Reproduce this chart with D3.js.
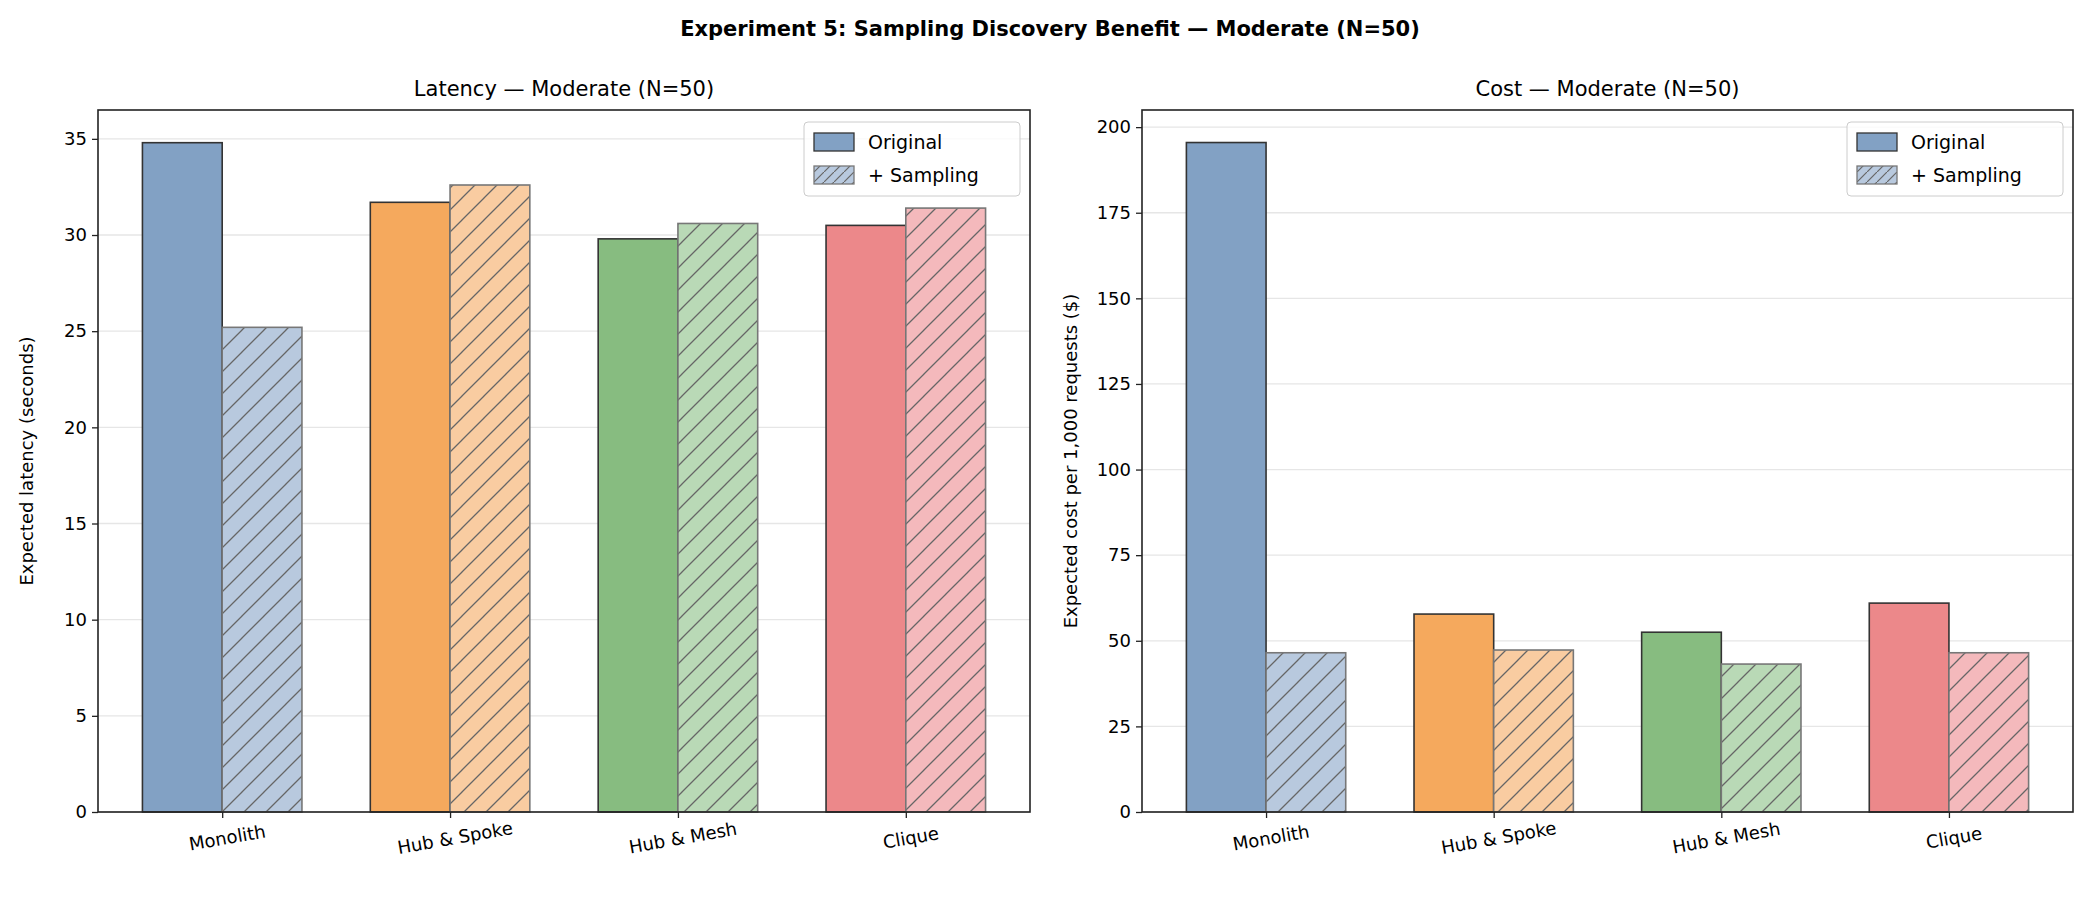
<!DOCTYPE html><html><head><meta charset="utf-8"><script src="https://cdn.jsdelivr.net/npm/d3@7"></script>
<style>body{margin:0;background:#fff}text{font-family:"DejaVu Sans",sans-serif;fill:#000}</style></head><body>
<svg id="c" width="2100" height="900"></svg>
<script>
const categories=["Monolith","Hub & Spoke","Hub & Mesh","Clique"];
const latOriginal=[34.8,31.7,29.8,30.5];
const latSampling=[25.2,32.6,30.6,31.4];
const costOriginal=[195.5,57.8,52.5,61.0];
const costSampling=[46.5,47.3,43.2,46.5];
const latTicks=[0,5,10,15,20,25,30,35];
const costTicks=[0,25,50,75,100,125,150,175,200];
const colOrig=["#82a1c4","#f5a95d","#87bc80","#ec888a"];
const colSamp=["#b8c9de","#f9cca1","#b9d9b6","#f4b9bc"];
const svg=d3.select("#c");
const defs=svg.append("defs");
colSamp.forEach((c,i)=>{const p=defs.append("pattern").attr("id","h"+i).attr("patternUnits","userSpaceOnUse").attr("width",22).attr("height",22);
p.append("rect").attr("width",22).attr("height",22).attr("fill",c);
p.append("path").attr("d","M-2,24 L24,-2 M-13,13 L13,-13 M9,35 L35,9").attr("stroke","#666").attr("stroke-width",1.3);});
const lp=defs.append("pattern").attr("id","hl").attr("patternUnits","userSpaceOnUse").attr("width",10).attr("height",10);
lp.append("rect").attr("width",10).attr("height",10).attr("fill","#b8c9de");
lp.append("path").attr("d","M-1,11 L11,-1").attr("stroke","#666").attr("stroke-width",1.2);
svg.append("text").attr("x",1050).attr("y",36).attr("text-anchor","middle").attr("font-size",21).attr("font-weight","bold").text("Experiment 5: Sampling Discovery Benefit — Moderate (N=50)");
function panel(x0,x1,title,ylab,orig,samp,ymax,ticks){
 const top=110,bot=812;
 const x=d3.scaleLinear().domain([-0.545,3.545]).range([x0,x1]);
 const y=d3.scaleLinear().domain([0,ymax]).range([bot,top]);
 const g=svg.append("g");
 ticks.forEach(t=>g.append("line").attr("x1",x0).attr("x2",x1).attr("y1",y(t)).attr("y2",y(t)).attr("stroke","#e6e6e6").attr("stroke-width",1.3));
 const bw=x(0.35)-x(0);
 orig.forEach((v,i)=>g.append("rect").attr("x",x(i)-bw).attr("y",y(v)).attr("width",bw).attr("height",bot-y(v)).attr("fill",colOrig[i]).attr("stroke","#333").attr("stroke-width",1.6));
 samp.forEach((v,i)=>g.append("rect").attr("x",x(i)).attr("y",y(v)).attr("width",bw).attr("height",bot-y(v)).attr("fill","url(#h"+i+")").attr("stroke","#777").attr("stroke-width",1.6));
 g.append("rect").attr("x",x0).attr("y",top).attr("width",x1-x0).attr("height",bot-top).attr("fill","none").attr("stroke","#222").attr("stroke-width",1.6);
 const ya=g.append("g").attr("transform",`translate(${x0},0)`).call(d3.axisLeft(y).tickValues(ticks).tickSize(6).tickPadding(5));
 const xa=g.append("g").attr("transform",`translate(0,${bot})`).call(d3.axisBottom(x).tickValues([0,1,2,3]).tickFormat(i=>categories[i]).tickSize(6));
 [ya,xa].forEach(a=>{a.select(".domain").remove();a.selectAll("text").attr("font-size",18).style("font-family","DejaVu Sans");a.selectAll("line").attr("stroke","#222").attr("stroke-width",1.3);});
 xa.selectAll("text").attr("transform","rotate(-10)").attr("dy","1.3em").attr("text-anchor","middle");
 svg.append("text").attr("x",(x0+x1)/2).attr("y",top-14).attr("text-anchor","middle").attr("font-size",21).text(title);
 svg.append("text").attr("transform",`translate(${x0-65},${(top+bot)/2}) rotate(-90)`).attr("text-anchor","middle").attr("font-size",18).text(ylab);
 const lx=x1-226,ly=top+12;
 const L=svg.append("g").attr("transform",`translate(${lx},${ly})`);
 L.append("rect").attr("width",216).attr("height",74).attr("rx",4).attr("fill","#fff").attr("fill-opacity",0.8).attr("stroke","#ccc");
 L.append("rect").attr("x",10).attr("y",11).attr("width",40).attr("height",18).attr("fill","#82a1c4").attr("stroke","#333").attr("stroke-width",1.3);
 L.append("rect").attr("x",10).attr("y",44).attr("width",40).attr("height",18).attr("fill","url(#hl)").attr("stroke","#777").attr("stroke-width",1.3);
 L.append("text").attr("x",64).attr("y",27).attr("font-size",19).text("Original");
 L.append("text").attr("x",64).attr("y",60).attr("font-size",19).text("+ Sampling");
}
panel(98,1030,"Latency — Moderate (N=50)","Expected latency (seconds)",latOriginal,latSampling,36.5,latTicks);
panel(1142,2073,"Cost — Moderate (N=50)","Expected cost per 1,000 requests ($)",costOriginal,costSampling,205,costTicks);
</script></body></html>
